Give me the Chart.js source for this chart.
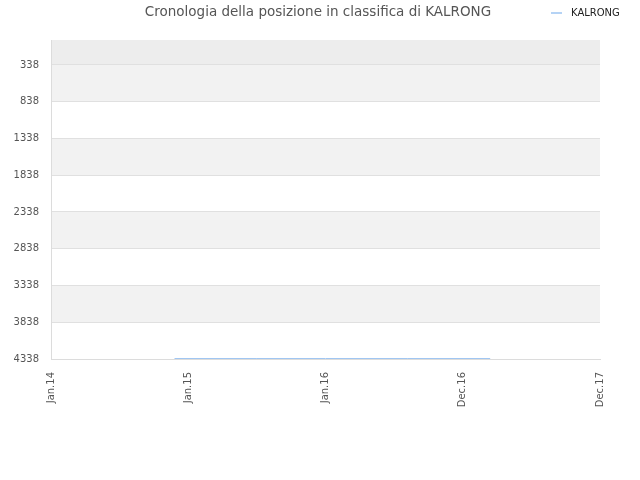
<!DOCTYPE html>
<html>
<head>
<meta charset="utf-8">
<script src="https://cdn.jsdelivr.net/npm/chart.js@4.4.0/dist/chart.umd.min.js"></script>
<style>
  html, body { margin: 0; padding: 0; background: #fff; }
  #wrap { width: 640px; height: 480px; }
</style>
</head>
<body>
<div id="wrap"><canvas id="grafico"></canvas></div>
<script>
// dati del grafico
const titolo = 'Cronologia della posizione in classifica di KALRONG';
const nomeSerie = 'KALRONG';
const etichetteX = ['Jan.14', 'Jan.15', 'Jan.16', 'Dec.16', 'Dec.17'];
const tickY = [338, 838, 1338, 1838, 2338, 2838, 3338, 3838, 4338];
const posizioniX = [0.9, 1.5, 2.0, 2.6, 3.2];
const posizioniClassifica = [4332, 4332, 4332, 4332, 4332];

const yMin = -2;
const yMax = 4338;

// fasce alternate dello sfondo
const fascePlugin = {
    id: 'fasce',
    beforeDraw(chart) {
        const { ctx, chartArea, scales } = chart;
        const y = scales.y;
        ctx.save();
        ctx.fillStyle = '#ededed';
        ctx.fillRect(chartArea.left, y.getPixelForValue(yMin), chartArea.right - chartArea.left,
            y.getPixelForValue(tickY[0]) - y.getPixelForValue(yMin));
        for (let i = 0; i < tickY.length - 1; i += 2) {
            const a = y.getPixelForValue(tickY[i]);
            const b = y.getPixelForValue(tickY[i + 1]);
            ctx.fillStyle = '#f2f2f2';
            ctx.fillRect(chartArea.left, a, chartArea.right - chartArea.left, b - a);
        }
        ctx.restore();
    }
};

// titolo e legenda in alto
const intestazionePlugin = {
    id: 'intestazione',
    afterDraw(chart) {
        const ctx = chart.ctx;
        ctx.save();
        ctx.font = '13.5px "DejaVu Sans"';
        ctx.fillStyle = '#555';
        ctx.textAlign = 'center';
        ctx.textBaseline = 'middle';
        ctx.fillText(titolo, 318, 12);

        ctx.strokeStyle = '#9cc4f2';
        ctx.lineWidth = 1.5;
        ctx.beginPath();
        ctx.moveTo(551, 13);
        ctx.lineTo(562, 13);
        ctx.stroke();
        ctx.font = '10px "DejaVu Sans"';
        ctx.fillStyle = '#222';
        ctx.textAlign = 'left';
        ctx.fillText(nomeSerie, 571, 13);
        ctx.restore();
    }
};

const ctx = document.getElementById('grafico').getContext('2d');
new Chart(ctx, {
    type: 'line',
    data: {
        datasets: [{
            label: nomeSerie,
            data: posizioniX.map((x, i) => ({ x, y: posizioniClassifica[i] })),
            borderColor: '#9cc4f2',
            borderWidth: 1,
            pointRadius: 0,
            fill: false,
            tension: 0
        }]
    },
    options: {
        responsive: true,
        maintainAspectRatio: false,
        animation: false,
        layout: { padding: { left: 0, right: 40, top: 40, bottom: 0 } },
        plugins: {
            legend: { display: false },
            title: { display: false },
            tooltip: { enabled: false }
        },
        scales: {
            x: {
                type: 'linear',
                min: 0,
                max: etichetteX.length - 1,
                afterBuildTicks: scale => {
                    scale.ticks = etichetteX.map((_, i) => ({ value: i }));
                },
                afterFit: scale => { scale.height = 121; },
                grid: { display: false, drawTicks: false },
                border: { color: '#dcdcdc' },
                ticks: {
                    callback: v => etichetteX[v],
                    minRotation: 90,
                    maxRotation: 90,
                    padding: 13,
                    color: '#555',
                    font: { family: 'DejaVu Sans', size: 10 }
                }
            },
            y: {
                reverse: true,
                min: yMin,
                max: yMax,
                afterBuildTicks: scale => {
                    scale.ticks = tickY.map(v => ({ value: v }));
                },
                afterFit: scale => { scale.width = 51; },
                grid: { color: '#e0e0e0', drawTicks: false },
                border: { color: '#dcdcdc' },
                ticks: {
                    callback: v => String(v),
                    padding: 12,
                    color: '#555',
                    font: { family: 'DejaVu Sans', size: 10 }
                }
            }
        }
    },
    plugins: [fascePlugin, intestazionePlugin]
});
</script>
</body>
</html>
